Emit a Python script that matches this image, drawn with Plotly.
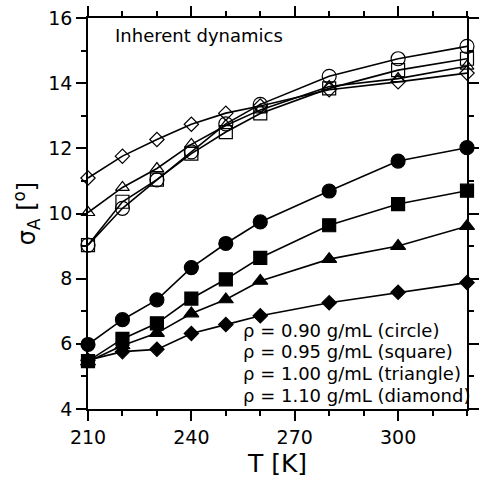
import plotly.graph_objects as go

T = [210, 220, 230, 240, 250, 260, 280, 300, 320]

# Filled symbols
filled_090 = [5.98, 6.74, 7.35, 8.34, 9.08, 9.74, 10.69, 11.61, 12.02]
filled_095 = [5.47, 6.15, 6.63, 7.39, 7.98, 8.64, 9.64, 10.29, 10.70]
filled_100 = [5.45, 5.95, 6.33, 6.93, 7.36, 7.93, 8.60, 9.00, 9.61]
filled_110 = [5.50, 5.76, 5.83, 6.32, 6.59, 6.86, 7.26, 7.58, 7.88]

# Open symbols
open_090 = [9.03, 10.16, 11.03, 11.89, 12.75, 13.35, 14.21, 14.75, 15.13]
open_095 = [9.03, 10.36, 11.04, 11.84, 12.50, 13.07, 13.84, 14.40, 14.75]
open_100 = [10.03, 10.80, 11.38, 12.12, 12.70, 13.18, 13.90, 14.14, 14.52]
open_110 = [11.09, 11.76, 12.27, 12.74, 13.08, 13.30, 13.80, 14.04, 14.31]

legend_lines = [
    "ρ = 0.90 g/mL (circle)",
    "ρ = 0.95 g/mL (square)",
    "ρ = 1.00 g/mL (triangle)",
    "ρ = 1.10 g/mL (diamond)",
]

FONT = "DejaVu Sans"

series = [
    (open_090, "circle-open", 14),
    (open_095, "square-open", 13),
    (open_100, "triangle-up-open", 12),
    (open_110, "diamond-open", 11),
    (filled_090, "circle", 14),
    (filled_095, "square", 13),
    (filled_100, "triangle-up", 13),
    (filled_110, "diamond", 11),
]

fig = go.Figure()
for ys, sym, sz in series:
    fig.add_trace(go.Scatter(
        x=T, y=ys, mode="lines+markers",
        line=dict(color="black", width=1.6),
        marker=dict(symbol=sym, size=sz, color="black",
                    line=dict(color="black", width=1.2)),
        cliponaxis=False, showlegend=False,
    ))

fig.add_annotation(x=0.065, y=0.955, xref="paper", yref="paper",
                   text="Inherent dynamics", showarrow=False,
                   xanchor="left", yanchor="middle",
                   font=dict(family=FONT, size=18, color="black"))

line_step = 21.7 / 391.3
for i, txt in enumerate(legend_lines):
    fig.add_annotation(x=0.405, y=0.035 + (3 - i) * line_step,
                       xref="paper", yref="paper",
                       text=txt, showarrow=False,
                       xanchor="left", yanchor="middle", align="left",
                       font=dict(family=FONT, size=18, color="black"))

axis_common = dict(
    showline=True, linecolor="black", linewidth=1.5, mirror="allticks",
    ticks="outside", ticklen=10, tickwidth=1.5, tickcolor="black",
    showgrid=False, zeroline=False,
    tickfont=dict(family=FONT, size=19, color="black"),
)

fig.update_xaxes(range=[210, 320], tickvals=[210, 240, 270, 300],
                 minor=dict(dtick=10, tick0=210, ticks="outside", ticklen=5,
                            tickwidth=1.5, tickcolor="black", showgrid=False),
                 title=dict(text="T [K]", font=dict(family=FONT, size=25, color="black"),
                            standoff=8),
                 **axis_common)
fig.update_yaxes(range=[4, 16], tickvals=[4, 6, 8, 10, 12, 14, 16],
                 minor=dict(dtick=1, tick0=4, ticks="outside", ticklen=5,
                            tickwidth=1.5, tickcolor="black", showgrid=False),
                 title=dict(text="σ<sub>A</sub> [<sup>o</sup>]",
                            font=dict(family=FONT, size=24, color="black"),
                            standoff=6),
                 **axis_common)

fig.update_layout(
    width=484, height=481,
    margin=dict(l=88, r=5, t=18, b=72),
    plot_bgcolor="white", paper_bgcolor="white",
    font=dict(family=FONT, color="black"),
)

fig.write_html("out.html")
